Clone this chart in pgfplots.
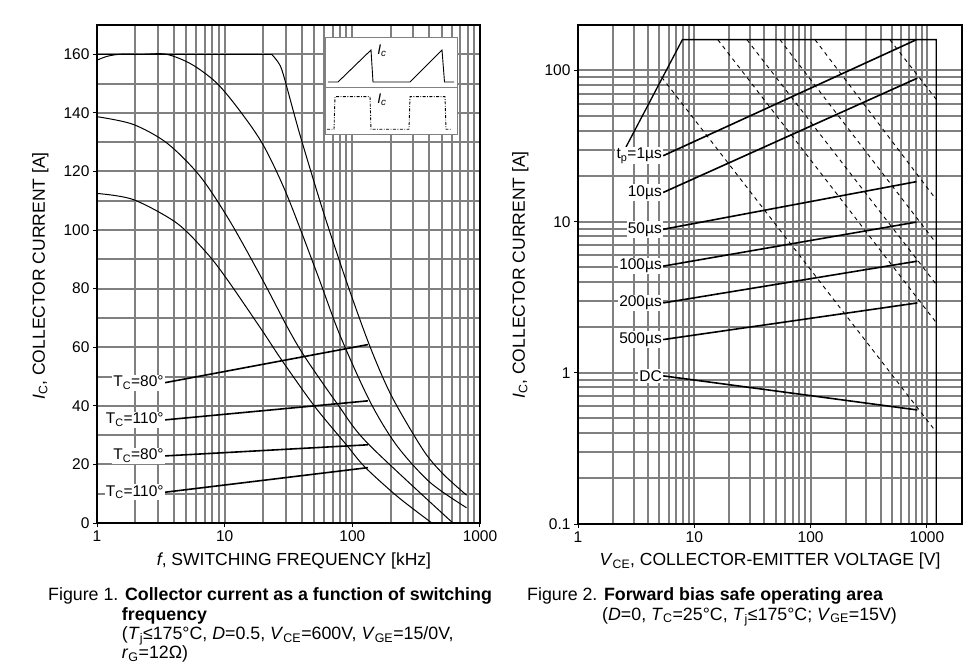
\documentclass[border=0pt]{standalone}
\usepackage{fontspec}
\setmainfont{Liberation Sans}
\usepackage{pgfplots}
\pgfplotsset{compat=1.18}

\definecolor{gridgray}{RGB}{128,128,128}
\newcommand{\sub}[1]{\textsubscript{#1}}
\newcommand{\tickfont}{\fontsize{15.5}{18}\selectfont}
\newcommand{\lblfont}{\fontsize{17.5}{20}\selectfont}
\newcommand{\capfont}{\fontsize{17.8}{20}\selectfont}
\newcommand{\annfont}{\fontsize{15.5}{18}\selectfont}

\pgfplotsset{
  dsheet/.style={
    scale only axis,
    anchor=south west,
    axis line style={line width=1.5pt},
    grid=both,
    major grid style={line width=2pt, draw=gridgray},
    minor grid style={line width=2pt, draw=gridgray},
    tick align=outside,
    xtick pos=bottom, ytick pos=left,
    major tick length=4pt, minor tick length=0pt,
    tick style={black, line width=1pt},
    ticklabel style={font=\tickfont},
    /pgf/number format/assume math mode=true,
    clip=false,
  },
  curve/.style={black, line width=1pt, smooth, tension=0.5},
  leader/.style={black, line width=1.6pt},
  limit/.style={black, line width=0.9pt, dash pattern=on 4pt off 4pt},
}
\tikzset{lab/.style={fill=white, inner sep=1.2pt, font=\annfont, anchor=east}}

\begin{document}
\begin{tikzpicture}
\path[use as bounding box] (0,0) rectangle (972pt,665pt);

% ---------------- Figure 1 ----------------
\begin{axis}[dsheet,
    at={(97pt,142pt)}, width=383pt, height=498pt,
    xmode=log, xmin=1, xmax=1000,
    ymin=0, ymax=170,
    xtick={1,10,100,1000}, xticklabels={1,10,100,1000},
    ytick={0,20,...,160}, minor ytick={10,30,...,150},
]
  % curve A (flat, then steep)
  \addplot[black, line width=1pt] coordinates {(1,160) (23.35,160)};
  \addplot[curve] coordinates {
    (23.35,160) (26.3,157.2) (28.8,153.1) (38.9,132.5) (58.9,106.6)
    (90.2,82.3) (137.3,60.3) (203.2,43.3) (359.1,24.9) (515,16.7) (785,9.5)};
  % curve B
  \addplot[curve] coordinates {
    (1,158) (1.2,159.3) (1.514,160) (2.29,160) (3.51,160) (5.5,156.6)
    (8.66,150.2) (13.2,140.6) (20.06,129.0) (30.6,112.2) (52.5,85.6)
    (80.0,64.1) (137.4,41.5) (222.3,26.5) (405.2,13.9) (785,5.2)};
  % curve C
  \addplot[curve] coordinates {
    (1,138.7) (1.914,136.1) (3.53,129.7) (6.41,118.4) (11.0,103.0)
    (19.6,83.4) (31.3,66.5) (42.6,56.6) (77.1,40.4) (132.5,27.1)
    (613.6,0)};
  % curve D
  \addplot[curve] coordinates {
    (1,112.5) (1.925,110.4) (4.21,102.4) (7.23,92.2) (10.4,83.3)
    (19.6,65.8) (27.9,55.7) (50.9,39.7) (90.2,26.6) (125.5,19.1)
    (227.6,8.9) (420,0)};
  % case temperature lines
  \addplot[leader] coordinates {(3.41,47.9) (132.5,60.9)};
  \addplot[leader] coordinates {(3.41,35.2) (132.5,41.7)};
  \addplot[leader] coordinates {(3.41,22.9) (132.5,26.7)};
  \addplot[leader] coordinates {(3.41,10.5) (132.5,18.9)};
  \node[lab] at (axis cs:3.41,47.9) {T\sub{C}=80°};
  \node[lab] at (axis cs:3.41,35.2) {T\sub{C}=110°};
  \node[lab] at (axis cs:3.41,22.9) {T\sub{C}=80°};
  \node[lab] at (axis cs:3.41,10.5) {T\sub{C}=110°};
\end{axis}

% inset waveform sketch
\begin{axis}[
    at={(325pt,530pt)}, anchor=south west, scale only axis,
    width=132pt, height=97pt,
    xmin=0, xmax=132, ymin=0, ymax=97,
    axis lines=box, ticks=none,
    axis line style={draw=gridgray, line width=1pt},
    axis background/.style={fill=white},
    clip=false,
]
  \addplot[gridgray, line width=1pt] coordinates {(0,47) (132,47)};
  \addplot[black, line width=0.9pt] coordinates {
    (3,53) (13,53) (46,85) (48,53) (85,53) (117,85) (119.5,53) (129,53)};
  \addplot[black, line width=0.9pt, dash pattern=on 3pt off 1.5pt on 0.8pt off 1.5pt] coordinates {
    (2,5.7) (9,5.7) (10,38.3) (45,38.3) (46,5.7) (84,5.7) (85,38.3)
    (120,38.3) (121,5.7) (127,5.7)};
  \node[font=\fontsize{14}{16}\selectfont] at (axis cs:57,84) {\textit{I}\sub{\textit{c}}};
  \node[font=\fontsize{14}{16}\selectfont] at (axis cs:57,35) {\textit{I}\sub{\textit{c}}};
\end{axis}

% ---------------- Figure 2 ----------------
\begin{axis}[dsheet,
    at={(578pt,141pt)}, width=384pt, height=499pt,
    xmode=log, ymode=log,
    xmin=1, xmax=2000, ymin=0.1, ymax=200,
    xtick={1,10,100,1000}, xticklabels={1,10,100,1000},
    ytick={0.1,1,10,100}, yticklabels={0.1,1,10,100},
]
  % outer limit
  \addplot[black, line width=1.3pt] coordinates {
    (2.53,30.2) (7.9,160) (1200,160) (1200,0.1)};
  % power limits (dashed)
  \addplot[limit] coordinates {(5.24,90.3) (1200,0.406)};
  \addplot[limit] coordinates {(15.9,160) (1200,2.15)};
  \addplot[limit] coordinates {(28.3,160) (1200,3.85)};
  \addplot[limit] coordinates {(54.4,160) (1200,7.2)};
  \addplot[limit] coordinates {(109,160) (1200,14)};
  \addplot[limit] coordinates {(479,160) (1200,64.5)};
  % pulse width leaders
  \addplot[leader] coordinates {(5.4,27.3) (812,160)};
  \addplot[leader] coordinates {(5.4,15.6) (826,89)};
  \addplot[leader] coordinates {(5.4,8.9) (812,18.4)};
  \addplot[leader] coordinates {(5.4,5.08) (812,9.94)};
  \addplot[leader] coordinates {(5.4,2.90) (826,5.48)};
  \addplot[leader] coordinates {(5.4,1.66) (826,2.90)};
  \addplot[leader] coordinates {(5.4,0.955) (826,0.568)};
  \node[lab] at (axis cs:5.4,27.3) {t\sub{p}=1µs};
  \node[lab] at (axis cs:5.4,15.6) {10µs};
  \node[lab] at (axis cs:5.4,8.9) {50µs};
  \node[lab] at (axis cs:5.4,5.08) {100µs};
  \node[lab] at (axis cs:5.4,2.90) {200µs};
  \node[lab] at (axis cs:5.4,1.66) {500µs};
  \node[lab] at (axis cs:5.4,0.955) {DC};
\end{axis}

% axis labels
\node[font=\lblfont, anchor=base] at (294pt,99.5pt) {\textit{f}, SWITCHING FREQUENCY [kHz]};
\node[font=\lblfont, anchor=base, rotate=90] at (44.75pt,389pt) {\textit{I}\sub{C}, COLLECTOR CURRENT [A]};
\node[font=\lblfont, anchor=base] at (770pt,99.5pt) {\textit{V}\sub{CE}, COLLECTOR-EMITTER VOLTAGE [V]};
\node[font=\lblfont, anchor=base, rotate=90] at (524.75pt,390pt) {\textit{I}\sub{C}, COLLECTOR CURRENT [A]};

% captions
\begin{scope}[every node/.style={font=\capfont, anchor=base west, inner sep=0pt}]
\node at (48pt,64.3pt) {Figure 1. \textbf{Collector current as a function of switching}};
\node at (121.7pt,45pt) {\textbf{frequency}};
\node at (121.7pt,25.7pt) {(\textit{T}\sub{j}≤175°C, \textit{D}=0.5, \textit{V}\sub{CE}=600V, \textit{V}\sub{GE}=15/0V,};
\node at (121.7pt,6.7pt) {\textit{r}\sub{G}=12Ω)};
\node at (527pt,64.3pt) {Figure 2. \textbf{Forward bias safe operating area}};
\node at (602pt,45pt) {(\textit{D}=0, \textit{T}\sub{C}=25°C, \textit{T}\sub{j}≤175°C; \textit{V}\sub{GE}=15V)};
\end{scope}
\end{tikzpicture}
\end{document}
